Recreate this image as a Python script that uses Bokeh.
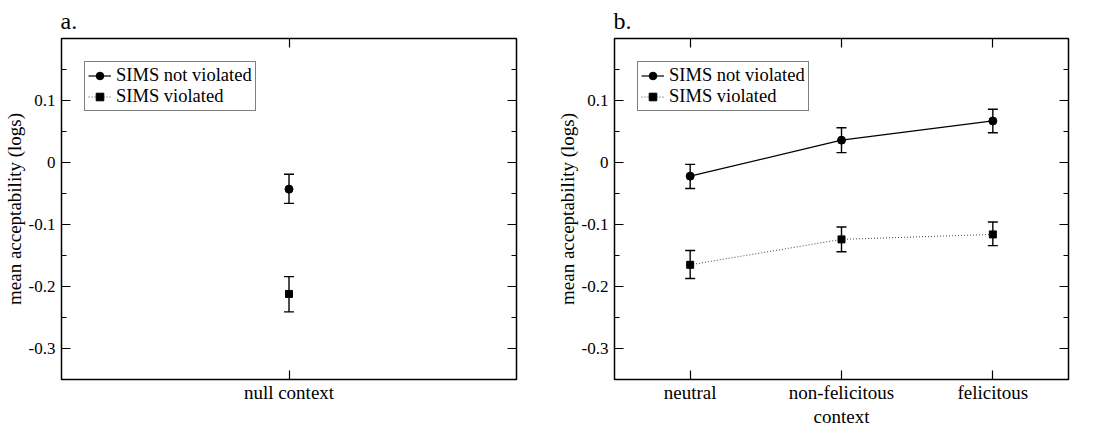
from bokeh.plotting import figure
from bokeh.models import (ColumnDataSource, Whisker, TeeHead, FactorRange, Range1d,
                          FixedTicker, LinearAxis, CategoricalAxis, Legend, LegendItem, Title)
from bokeh.layouts import row
from bokeh.embed import file_html
from bokeh.resources import INLINE

# ---- data ----
ctx_a = ["null context"]
a_not_mean = [-0.043]
a_not_lo = [-0.066]
a_not_hi = [-0.019]
a_vio_mean = [-0.212]
a_vio_lo = [-0.241]
a_vio_hi = [-0.184]

ctx_b = ["neutral", "non-felicitous", "felicitous"]
b_not_mean = [-0.022, 0.036, 0.067]
b_not_lo = [-0.042, 0.016, 0.048]
b_not_hi = [-0.003, 0.056, 0.086]
b_vio_mean = [-0.165, -0.124, -0.116]
b_vio_lo = [-0.187, -0.144, -0.134]
b_vio_hi = [-0.142, -0.104, -0.096]

y_ticks = [-0.3, -0.2, -0.1, 0, 0.1]
y_tick_labels = {-0.3: "-0.3", -0.2: "-0.2", -0.1: "-0.1", 0: "0", 0.1: "0.1"}
y_minor = [-0.35, -0.25, -0.15, -0.05, 0.05, 0.15]

FONT = "Liberation Serif"
SERIES = ["SIMS not violated", "SIMS violated"]


def bare_axis(ax):
    ax.axis_line_color = None
    ax.major_tick_in = 0
    ax.major_tick_out = 0
    ax.minor_tick_out = 0
    ax.major_label_standoff = 0
    ax.axis_label_standoff = 0
    ax.minor_tick_line_color = "black"
    ax.minor_tick_line_width = 1.2


def label_style(ax):
    ax.axis_line_color = None
    ax.major_tick_in = 9
    ax.major_tick_out = 0
    ax.major_tick_line_width = 1.2
    ax.major_label_text_font = FONT
    ax.major_label_text_font_size = "17px"
    ax.major_label_text_color = "black"
    ax.axis_label_text_font = FONT
    ax.axis_label_text_font_style = "normal"
    ax.axis_label_text_font_size = "19px"
    ax.axis_label_text_color = "black"


def make_panel(cats, nm, nlo, nhi, vm, vlo, vhi, title, fw, bl, xlabel):
    p = figure(frame_width=fw, frame_height=341,
               x_range=FactorRange(factors=cats, range_padding=0),
               y_range=Range1d(-0.35, 0.2), output_backend="svg", toolbar_location=None,
               x_axis_location=None, y_axis_location=None,
               min_border_left=bl, min_border_right=30, min_border_top=30, min_border_bottom=36)
    p.xgrid.visible = False
    p.ygrid.visible = False
    p.outline_line_color = "black"
    p.outline_line_width = 1.5
    p.background_fill_color = "white"
    p.border_fill_color = "white"

    # left axis with labels
    ly = LinearAxis(ticker=FixedTicker(ticks=y_ticks, minor_ticks=y_minor),
                    major_label_overrides=y_tick_labels)
    label_style(ly)
    ly.minor_tick_in = 5
    ly.minor_tick_out = 0
    ly.minor_tick_line_width = 1.2
    ly.axis_label = "mean acceptability (logs)"
    ly.axis_label_standoff = 1
    ly.major_label_standoff = 6
    p.add_layout(ly, "left")

    # right side ticks (no labels)
    r1 = LinearAxis(ticker=FixedTicker(ticks=[], minor_ticks=y_ticks))
    bare_axis(r1)
    r1.minor_tick_in = 9
    p.add_layout(r1, "right")
    r2 = LinearAxis(ticker=FixedTicker(ticks=[], minor_ticks=y_minor))
    bare_axis(r2)
    r2.minor_tick_in = 5
    p.add_layout(r2, "right")

    # bottom categorical axis
    bx = CategoricalAxis()
    label_style(bx)
    bx.major_label_text_font_size = "19px"
    bx.major_label_standoff = 2
    if xlabel:
        bx.axis_label = xlabel
        bx.axis_label_standoff = 0
    p.add_layout(bx, "below")

    # top ticks at category centres (no labels)
    centres = [i + 0.5 for i in range(len(cats))]
    tx = LinearAxis(ticker=FixedTicker(ticks=[], minor_ticks=centres))
    bare_axis(tx)
    tx.minor_tick_in = 9
    p.add_layout(tx, "above")

    t = Title(text=title, text_font=FONT, text_font_size="24px", text_font_style="normal",
              text_color="black", offset=-1, standoff=10)
    p.add_layout(t, "above")

    src_n = ColumnDataSource(dict(x=cats, y=nm, lo=nlo, hi=nhi))
    src_v = ColumnDataSource(dict(x=cats, y=vm, lo=vlo, hi=vhi))

    for src in (src_n, src_v):
        w = Whisker(source=src, base="x", lower="lo", upper="hi", line_color="black",
                    line_width=1.4,
                    upper_head=TeeHead(size=10, line_color="black", line_width=1.4),
                    lower_head=TeeHead(size=10, line_color="black", line_width=1.4))
        p.add_layout(w)

    ln = p.line("x", "y", source=src_n, line_color="black", line_width=1.2)
    mn = p.scatter("x", "y", source=src_n, marker="circle", size=8, color="black")
    lv = p.line("x", "y", source=src_v, line_color="#444444", line_width=1.0, line_dash="1 2")
    mv = p.scatter("x", "y", source=src_v, marker="square", size=7, color="black")

    leg = Legend(items=[LegendItem(label=SERIES[0], renderers=[ln, mn]),
                        LegendItem(label=SERIES[1], renderers=[lv, mv])],
                 location="top_left", margin=23, padding=3, spacing=0,
                 label_text_font=FONT, label_text_font_size="18.5px", label_height=19,
                 label_text_color="black",
                 glyph_height=19, glyph_width=23, label_standoff=5,
                 border_line_color="black", border_line_width=1.2,
                 background_fill_alpha=1.0)
    p.add_layout(leg, "center")
    return p


pa = make_panel(ctx_a, a_not_mean, a_not_lo, a_not_hi, a_vio_mean, a_vio_lo, a_vio_hi,
                "a.", 455, 55, None)
pb = make_panel(ctx_b, b_not_mean, b_not_lo, b_not_hi, b_vio_mean, b_vio_lo, b_vio_hi,
                "b.", 454, 68, "context")

layout = row(pa, pb)
open("out.html", "w").write(file_html(layout, INLINE))
